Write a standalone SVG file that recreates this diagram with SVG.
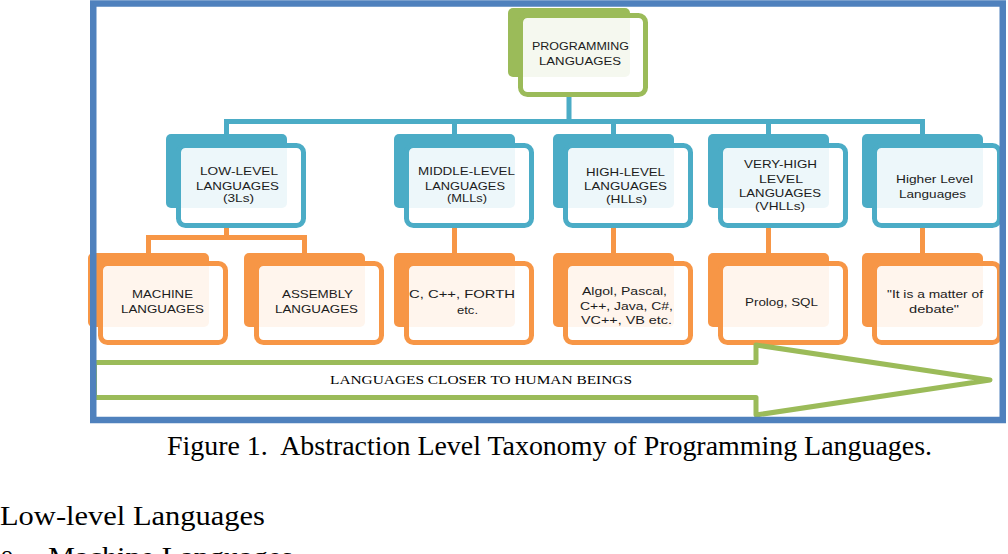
<svg xmlns="http://www.w3.org/2000/svg" width="1008" height="554" viewBox="0 0 1008 554">
<style>
.t{font-family:"Liberation Sans",Arial,sans-serif;font-size:11px;fill:#1c1c1c}
.cap{font-family:"Liberation Serif","Times New Roman",serif;fill:#000;white-space:pre}
.shB{fill:#4bacc6}.frB{fill:#fff;fill-opacity:0.9;stroke:#4bacc6;stroke-width:5}
.shO{fill:#f79646}.frO{fill:#fff;fill-opacity:0.9;stroke:#f79646;stroke-width:5}
.shG{fill:#9bbb59}.frG{fill:#fff;fill-opacity:0.9;stroke:#9bbb59;stroke-width:5}
.cB{fill:none;stroke:#4bacc6;stroke-width:5}
.cO{fill:none;stroke:#f79646;stroke-width:5}
</style>
<rect x="0" y="0" width="1008" height="554" fill="#fff"/>
<g id="connectors">
<path class="cB" d="M569,95V121.5M226.5,136V121.5H922.5V136M454.5,121.5V136M613.5,121.5V136M768.5,121.5V136"/>
<path class="cO" d="M226.5,226V237.5M148.5,255V237.5H304.5V255"/>
<path class="cO" d="M454.5,226V255M613.5,226V255M768.5,226V255M922.5,226V255"/>
</g>
<g id="root">
<rect class="shG" x="508" y="8" width="122" height="69" rx="5"/>
<rect class="frG" x="520.5" y="15.5" width="125" height="79" rx="7"/>
<text class="t" x="532" y="49.5" textLength="97" lengthAdjust="spacingAndGlyphs">PROGRAMMING</text>
<text class="t" x="539" y="65" textLength="82" lengthAdjust="spacingAndGlyphs">LANGUAGES</text>
</g>
<g id="lll">
<rect class="shB" x="166" y="134" width="121" height="74" rx="5"/>
<rect class="frB" x="178.5" y="145.5" width="125" height="80" rx="7"/>
<text class="t" x="200" y="175" textLength="78" lengthAdjust="spacingAndGlyphs">LOW-LEVEL</text>
<text class="t" x="196" y="189.5" textLength="83" lengthAdjust="spacingAndGlyphs">LANGUAGES</text>
<text class="t" x="223" y="202" textLength="31" lengthAdjust="spacingAndGlyphs">(3Ls)</text>
</g>
<g id="mll">
<rect class="shB" x="394" y="134" width="121" height="74" rx="5"/>
<rect class="frB" x="406.5" y="145.5" width="125" height="80" rx="7"/>
<text class="t" x="418" y="175" textLength="97" lengthAdjust="spacingAndGlyphs">MIDDLE-LEVEL</text>
<text class="t" x="425" y="189.5" textLength="80" lengthAdjust="spacingAndGlyphs">LANGUAGES</text>
<text class="t" x="447" y="202" textLength="40" lengthAdjust="spacingAndGlyphs">(MLLs)</text>
</g>
<g id="hll">
<rect class="shB" x="553" y="134" width="121" height="74" rx="5"/>
<rect class="frB" x="565.5" y="145.5" width="125" height="80" rx="7"/>
<text class="t" x="586" y="176" textLength="79" lengthAdjust="spacingAndGlyphs">HIGH-LEVEL</text>
<text class="t" x="584" y="190" textLength="83" lengthAdjust="spacingAndGlyphs">LANGUAGES</text>
<text class="t" x="606" y="203" textLength="41" lengthAdjust="spacingAndGlyphs">(HLLs)</text>
</g>
<g id="vhll">
<rect class="shB" x="708" y="134" width="121" height="74" rx="5"/>
<rect class="frB" x="720.5" y="145.5" width="125" height="80" rx="7"/>
<text class="t" x="744" y="168" textLength="73" lengthAdjust="spacingAndGlyphs">VERY-HIGH</text>
<text class="t" x="759" y="182.5" textLength="44" lengthAdjust="spacingAndGlyphs">LEVEL</text>
<text class="t" x="739" y="196.5" textLength="82" lengthAdjust="spacingAndGlyphs">LANGUAGES</text>
<text class="t" x="755" y="209.5" textLength="50" lengthAdjust="spacingAndGlyphs">(VHLLs)</text>
</g>
<g id="higher">
<rect class="shB" x="862" y="134" width="121" height="74" rx="5"/>
<rect class="frB" x="874.5" y="145.5" width="125" height="80" rx="7"/>
<text class="t" x="896" y="183" textLength="77" lengthAdjust="spacingAndGlyphs">Higher Level</text>
<text class="t" x="899" y="198" textLength="67" lengthAdjust="spacingAndGlyphs">Languages</text>
</g>
<g id="machine">
<rect class="shO" x="88" y="253" width="121" height="74" rx="5"/>
<rect class="frO" x="100.5" y="263.5" width="125" height="79" rx="7"/>
<text class="t" x="132" y="298" textLength="61" lengthAdjust="spacingAndGlyphs">MACHINE</text>
<text class="t" x="121" y="313" textLength="83" lengthAdjust="spacingAndGlyphs">LANGUAGES</text>
</g>
<g id="assembly">
<rect class="shO" x="244" y="253" width="121" height="74" rx="5"/>
<rect class="frO" x="256.5" y="263.5" width="125" height="79" rx="7"/>
<text class="t" x="282" y="298" textLength="71" lengthAdjust="spacingAndGlyphs">ASSEMBLY</text>
<text class="t" x="275" y="313" textLength="83" lengthAdjust="spacingAndGlyphs">LANGUAGES</text>
</g>
<g id="cforth">
<rect class="shO" x="394" y="253" width="121" height="74" rx="5"/>
<rect class="frO" x="406.5" y="263.5" width="125" height="79" rx="7"/>
<text class="t" x="409" y="298" textLength="106" lengthAdjust="spacingAndGlyphs">C, C++, FORTH</text>
<text class="t" x="457" y="314" textLength="21" lengthAdjust="spacingAndGlyphs">etc.</text>
</g>
<g id="algol">
<rect class="shO" x="553" y="253" width="121" height="74" rx="5"/>
<rect class="frO" x="565.5" y="263.5" width="125" height="79" rx="7"/>
<text class="t" x="582" y="295" textLength="85" lengthAdjust="spacingAndGlyphs">Algol, Pascal,</text>
<text class="t" x="580" y="310" textLength="93" lengthAdjust="spacingAndGlyphs">C++, Java, C#,</text>
<text class="t" x="581" y="323.5" textLength="91" lengthAdjust="spacingAndGlyphs">VC++, VB etc.</text>
</g>
<g id="prolog">
<rect class="shO" x="708" y="253" width="121" height="74" rx="5"/>
<rect class="frO" x="720.5" y="263.5" width="125" height="79" rx="7"/>
<text class="t" x="745" y="306" textLength="73" lengthAdjust="spacingAndGlyphs">Prolog, SQL</text>
</g>
<g id="debate">
<rect class="shO" x="862" y="253" width="121" height="74" rx="5"/>
<rect class="frO" x="874.5" y="263.5" width="125" height="79" rx="7"/>
<text class="t" x="887" y="298" textLength="96" lengthAdjust="spacingAndGlyphs">"It is a matter of</text>
<text class="t" x="909" y="313" textLength="50" lengthAdjust="spacingAndGlyphs">debate"</text>
</g>
<g id="arrow">
<polygon points="94.5,362.5 756,362.5 756,345 990,380 756,415 756,397.5 94.5,397.5" fill="#fff" stroke="#9bbb59" stroke-width="5" stroke-linejoin="round"/>
<text class="cap" x="330" y="384" font-size="11.5" textLength="302" lengthAdjust="spacingAndGlyphs">LANGUAGES CLOSER TO HUMAN BEINGS</text>
</g>
<g id="frame">
<rect x="93.25" y="3.5" width="909.5" height="416.5" fill="none" stroke="#4f81bd" stroke-width="6.5"/>
</g>
<g id="caption">
<text class="cap" x="167" y="455" font-size="27" textLength="765" lengthAdjust="spacingAndGlyphs">Figure 1.  Abstraction Level Taxonomy of Programming Languages.</text>
<text class="cap" x="0" y="525" font-size="28" textLength="265" lengthAdjust="spacingAndGlyphs">Low-level Languages</text>
<text class="cap" x="1" y="562" font-size="24">o</text>
<text class="cap" x="48" y="565.5" font-size="28" textLength="245" lengthAdjust="spacingAndGlyphs">Machine Languages</text>
</g>
</svg>
